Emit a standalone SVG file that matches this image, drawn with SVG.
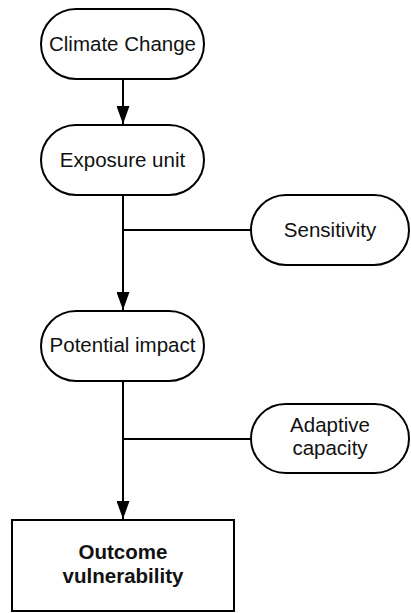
<svg xmlns="http://www.w3.org/2000/svg" width="411" height="613" viewBox="0 0 411 613">
<style>
.n{fill:#fff;stroke:#000;stroke-width:2}
.t{font-family:"Liberation Sans",Arial,sans-serif;font-size:20.5px;fill:#111;text-anchor:middle}
.b{font-weight:bold}
.c{fill:none;stroke:#000;stroke-width:2}
</style>
<defs>
<marker id="ah" markerWidth="18" markerHeight="13" refX="18" refY="6.5" orient="auto" markerUnits="userSpaceOnUse">
<path d="M0,0 L18,6.5 L0,13 Z" fill="#000"/>
</marker>
</defs>
<rect width="411" height="613" fill="#fff"/>
<g id="connectors">
<line class="c" x1="123" y1="79" x2="123" y2="124" marker-end="url(#ah)"/>
<line class="c" x1="123" y1="195" x2="123" y2="310" marker-end="url(#ah)"/>
<line class="c" x1="123" y1="230" x2="251" y2="230"/>
<line class="c" x1="123" y1="381" x2="123" y2="519" marker-end="url(#ah)"/>
<line class="c" x1="123" y1="439" x2="251" y2="439"/>
</g>
<g id="climate">
<rect class="n" x="41" y="9" width="163" height="70" rx="35" ry="35"/>
<text class="t" x="122.5" y="51">Climate Change</text>
</g>
<g id="exposure">
<rect class="n" x="41" y="125" width="163" height="70" rx="35" ry="35"/>
<text class="t" x="122.5" y="167">Exposure unit</text>
</g>
<g id="sensitivity">
<rect class="n" x="251" y="195" width="158" height="70" rx="35" ry="35"/>
<text class="t" x="330" y="237">Sensitivity</text>
</g>
<g id="potential">
<rect class="n" x="41" y="311" width="163" height="70" rx="35" ry="35"/>
<text class="t" x="122.5" y="352">Potential impact</text>
</g>
<g id="adaptive">
<rect class="n" x="251" y="404" width="158" height="69" rx="34.5" ry="34.5"/>
<text class="t" x="330" y="432">Adaptive</text>
<text class="t" x="330" y="455">capacity</text>
</g>
<g id="outcome">
<rect class="n" x="12" y="520" width="222" height="91"/>
<text class="t b" x="123" y="559">Outcome</text>
<text class="t b" x="123" y="583">vulnerability</text>
</g>
</svg>
